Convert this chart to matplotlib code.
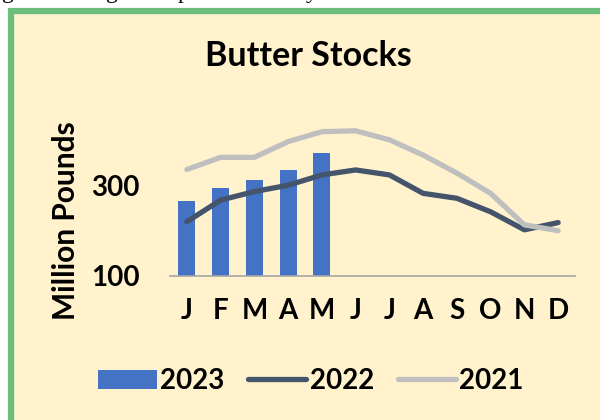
import matplotlib
matplotlib.use("Agg")
import matplotlib.pyplot as plt
from matplotlib.patches import Rectangle
from matplotlib.lines import Line2D
from matplotlib.patches import Patch

plt.rcParams["font.family"] = ["Lato", "DejaVu Sans"]
plt.rcParams["font.weight"] = "bold"

MONTHS = ["J", "F", "M", "A", "M", "J", "J", "A", "S", "O", "N", "D"]
STOCKS_2023 = [267, 296, 313, 335, 372]
STOCKS_2022 = [220, 268, 287, 301, 324, 335, 324, 283, 272, 242, 202, 218]
STOCKS_2021 = [336, 363, 363, 398, 420, 422, 402, 368, 328, 283, 213, 200]

BG = "#FFF2CC"
GREEN = "#6DBD7C"
C2023 = "#4472C4"
C2022 = "#44546A"
C2021 = "#BFBFBF"

fig = plt.figure(figsize=(6, 4.2), dpi=100)
fig.patch.set_facecolor("white")

# panel background with green frame (runs off the right/bottom of the crop)
fig.patches.append(Rectangle((11 / 600, -0.2), 1.3, (420 - 11) / 420 + 0.2,
                             transform=fig.transFigure, facecolor=BG,
                             edgecolor=GREEN, linewidth=4.5, zorder=-5))

# tail of the text line above the chart, cut off by the crop
for ch, xp in [("g", 2), ("g", 106), ("p", 178), ("y", 306)]:
    fig.text(xp / 600, 1 + 2 / 420, ch, family="Liberation Serif",
             fontweight="normal", fontsize=17, va="baseline", ha="left")

ax = fig.add_axes([170 / 600, (420 - 275.7) / 420, 405 / 600, 180 / 420])
ax.set_facecolor("none")
ax.set_zorder(2)

x = list(range(len(MONTHS)))
ax.bar(x[:len(STOCKS_2023)], [v - 100 for v in STOCKS_2023], bottom=100,
       width=0.5, color=C2023, zorder=2)
ax.plot(x, STOCKS_2022, color=C2022, linewidth=3.8, solid_capstyle="round",
        solid_joinstyle="round", zorder=3)
ax.plot(x, STOCKS_2021, color=C2021, linewidth=3.8, solid_capstyle="round",
        solid_joinstyle="round", zorder=4)

ax.set_xlim(-0.5, 11.5)
ax.set_ylim(100, 500)
ax.set_yticks([100, 300])
ax.set_xticks(x)
ax.set_xticklabels(MONTHS)
for s in ["top", "left", "right"]:
    ax.spines[s].set_visible(False)
ax.spines["bottom"].set_color("#A6A6A6")
ax.spines["bottom"].set_linewidth(1.2)
ax.tick_params(axis="both", length=0, labelsize=20)
ax.tick_params(axis="y", pad=22)
ax.tick_params(axis="x", pad=16)

fig.text(308 / 600, (420 - 56) / 420, "Butter Stocks", ha="center",
         va="center", fontsize=24.5, fontweight="bold")
fig.text(66 / 600, (420 - 221) / 420, "Million Pounds", rotation=90,
         ha="center", va="center", fontsize=21.5, fontweight="bold")

handles = [
    Patch(facecolor=C2023, edgecolor="none"),
    Line2D([0], [0], color=C2022, linewidth=3.8, solid_capstyle="round"),
    Line2D([0], [0], color=C2021, linewidth=3.8, solid_capstyle="round"),
]
fig.legend(handles, ["2023", "2022", "2021"], loc="center",
           bbox_to_anchor=(311 / 600, (420 - 381) / 420), ncol=3,
           frameon=False, fontsize=20, handlelength=2.1, handleheight=0.65,
           handletextpad=0.12, columnspacing=0.85)

fig.savefig("out.png", dpi=100, facecolor=fig.get_facecolor())
